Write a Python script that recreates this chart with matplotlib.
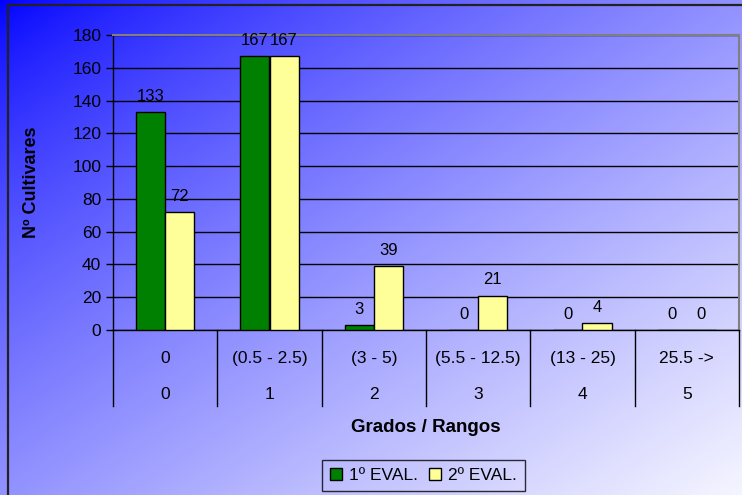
import matplotlib.pyplot as plt
from matplotlib.patches import Patch, Rectangle
import numpy as np

plt.rcParams['font.family'] = ['Liberation Sans', 'DejaVu Sans']

grados = ['0', '1', '2', '3', '4', '5']
rangos = ['0', '(0.5 - 2.5)', '(3 - 5)', '(5.5 - 12.5)', '(13 - 25)', '25.5 ->']
eval1 = [133, 167, 3, 0, 0, 0]
eval2 = [72, 167, 39, 21, 4, 0]
series_names = ['1º EVAL.', '2º EVAL.']

W, H = 742, 495
fig = plt.figure(figsize=(W / 100, H / 100), dpi=100)

# diagonal gradient background
bg = fig.add_axes([0, 0, 1, 1], zorder=-10)
xx, yy = np.meshgrid(np.linspace(0, 1, 300), np.linspace(0, 1, 200))
t = ((xx + yy) / 2) ** 0.75
blue = np.array([0, 0, 255]) / 255
white = np.array([245, 245, 255]) / 255
img = blue[None, None, :] * (1 - t[..., None]) + white[None, None, :] * t[..., None]
bg.imshow(img, extent=[0, 1, 0, 1], aspect='auto', origin='upper')
bg.set_xlim(0, 1)
bg.set_ylim(0, 1)
bg.axis('off')
bg.add_patch(Rectangle((8 / W, -0.1), 1.2, 1 - 5 / H + 0.1, fill=False,
                       edgecolor='#222222', linewidth=1.6))

ax = fig.add_axes([113 / W, 1 - 330 / H, (739 - 113) / W, (330 - 35) / H])
ax.set_facecolor('none')

x = np.arange(len(grados))
w = 0.28
b1 = ax.bar(x - w / 2, eval1, w, color='#008000', edgecolor='black', linewidth=1, zorder=3)
b2 = ax.bar(x + w / 2, eval2, w, color='#FFFF99', edgecolor='black', linewidth=1, zorder=3)

for bars, vals in [(b1, eval1), (b2, eval2)]:
    for rect, v in zip(bars, vals):
        ax.annotate(str(v), (rect.get_x() + rect.get_width() / 2, v),
                    xytext=(0, 6), textcoords='offset points',
                    ha='center', va='bottom', fontsize=12)

ax.set_xlim(-0.5, len(grados) - 0.5)
ax.set_ylim(0, 180)
ax.set_yticks(range(0, 181, 20))
ax.tick_params(axis='y', labelsize=12.5, length=5, width=1)
ax.set_xticks([])
ax.yaxis.grid(True, color='black', linewidth=1)
ax.set_axisbelow(True)
for s in ['top', 'right']:
    ax.spines[s].set_color('#808080')
    ax.spines[s].set_linewidth(1.5)
for s in ['left', 'bottom']:
    ax.spines[s].set_color('black')
    ax.spines[s].set_linewidth(1)

ax.set_ylabel('Nº Cultivares', fontsize=13, fontweight='bold')
ax.yaxis.set_label_coords(-0.117, 0.5)

# two-level category axis
trans = ax.get_xaxis_transform()
for b in np.arange(-0.5, len(grados), 1.0):
    ax.plot([b, b], [0, -0.258], color='black', linewidth=1, transform=trans, clip_on=False)
for i in range(len(grados)):
    ax.text(i, -0.095, rangos[i], transform=trans, ha='center', va='center', fontsize=12.5)
    ax.text(i, -0.22, grados[i], transform=trans, ha='center', va='center', fontsize=12.5)
ax.text(2.5, -0.329, 'Grados / Rangos', transform=trans, ha='center', va='center',
        fontsize=13.5, fontweight='bold')

handles = [Patch(facecolor='#008000', edgecolor='black'),
           Patch(facecolor='#FFFF99', edgecolor='black')]
leg = fig.legend(handles, series_names, loc='center', bbox_to_anchor=(423.5 / W, 1 - 475.5 / H),
                 ncol=2, fontsize=12.5, frameon=True, fancybox=False,
                 handlelength=0.7, handleheight=0.7, handletextpad=0.4, columnspacing=0.6,
                 borderpad=0.45)
leg.get_frame().set_edgecolor('black')
leg.get_frame().set_facecolor('none')
leg.get_frame().set_linewidth(1)

fig.savefig('out.png', dpi=100)
